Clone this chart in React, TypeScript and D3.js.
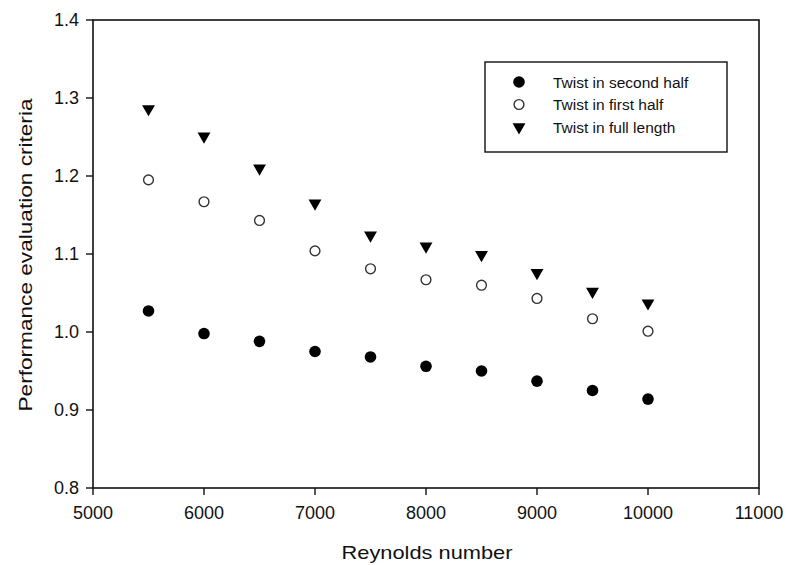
import React from "react";
import * as d3 from "d3";

const reynolds = [5500, 6000, 6500, 7000, 7500, 8000, 8500, 9000, 9500, 10000];
const secondHalf = [1.027, 0.998, 0.988, 0.975, 0.968, 0.956, 0.95, 0.937, 0.925, 0.914];
const firstHalf = [1.195, 1.167, 1.143, 1.104, 1.081, 1.067, 1.06, 1.043, 1.017, 1.001];
const fullLength = [1.286, 1.251, 1.21, 1.165, 1.124, 1.11, 1.099, 1.076, 1.052, 1.037];

const xTicks = [5000, 6000, 7000, 8000, 9000, 10000, 11000];
const yTicks = [0.8, 0.9, 1.0, 1.1, 1.2, 1.3, 1.4];

const seriesNames = ["Twist in second half", "Twist in first half", "Twist in full length"];

const WIDTH = 787;
const HEIGHT = 565;
const MARGIN = { top: 20, right: 28, bottom: 77, left: 93 };
const FONT = "Arial, 'Liberation Sans', sans-serif";

const Marker = ({ kind, x, y }: { kind: number; x: number; y: number }) => {
  if (kind === 0) return <circle cx={x} cy={y} r={5.8} fill="black" />;
  if (kind === 1)
    return <circle cx={x} cy={y} r={4.9} fill="white" stroke="#333" strokeWidth={1.4} />;
  const tri = d3.symbol().type(d3.symbolTriangle).size(72)();
  return <path d={tri || ""} transform={`translate(${x},${y}) rotate(180)`} fill="black" />;
};

export default function App() {
  const boundsWidth = WIDTH - MARGIN.left - MARGIN.right;
  const boundsHeight = HEIGHT - MARGIN.top - MARGIN.bottom;

  const xScale = d3.scaleLinear().domain([5000, 11000]).range([0, boundsWidth]);
  const yScale = d3.scaleLinear().domain([0.8, 1.4]).range([boundsHeight, 0]);

  const allSeries = [secondHalf, firstHalf, fullLength];

  return (
    <svg
      width={WIDTH}
      height={HEIGHT}
      style={{ position: "absolute", left: 0, top: 0, background: "white" }}
      fontFamily={FONT}
    >
      <g transform={`translate(${MARGIN.left},${MARGIN.top})`}>
        {/* frame */}
        <rect x={0} y={0} width={boundsWidth} height={boundsHeight} fill="none" stroke="#111" strokeWidth={1.6} />

        {/* y ticks */}
        {yTicks.map((t) => (
          <g key={t} transform={`translate(0,${yScale(t)})`}>
            <line x1={-7} x2={0} stroke="#111" strokeWidth={1.4} />
            <text x={-14} dy="0.36em" textAnchor="end" fontSize={18} fill="#111">
              {d3.format(".1f")(t)}
            </text>
          </g>
        ))}

        {/* x ticks */}
        {xTicks.map((t) => (
          <g key={t} transform={`translate(${xScale(t)},${boundsHeight})`}>
            <line y1={0} y2={7} stroke="#111" strokeWidth={1.4} />
            <text y={31} textAnchor="middle" fontSize={18} fill="#111">
              {t}
            </text>
          </g>
        ))}

        {/* points */}
        {allSeries.map((vals, s) =>
          vals.map((v, i) => (
            <Marker key={`${s}-${i}`} kind={s} x={xScale(reynolds[i])} y={yScale(v)} />
          ))
        )}

        {/* legend */}
        <g transform={`translate(${392},${42})`}>
          <rect x={0} y={0} width={242} height={90} fill="white" stroke="#111" strokeWidth={1.4} />
          {seriesNames.map((name, i) => (
            <g key={name} transform={`translate(0,${20 + i * 22.5})`}>
              <Marker kind={i} x={34} y={0} />
              <text x={68} dy="0.36em" fontSize={15.5} fill="#111">
                {name}
              </text>
            </g>
          ))}
        </g>
      </g>

      {/* axis titles */}
      <text
        x={427}
        y={559}
        textAnchor="middle"
        fontSize={19}
        fill="#111"
        textLength={171}
        lengthAdjust="spacingAndGlyphs"
      >
        Reynolds number
      </text>
      <text
        transform={`translate(32,255) rotate(-90)`}
        textAnchor="middle"
        fontSize={19}
        fill="#111"
        textLength={313}
        lengthAdjust="spacingAndGlyphs"
      >
        Performance evaluation criteria
      </text>
    </svg>
  );
}
